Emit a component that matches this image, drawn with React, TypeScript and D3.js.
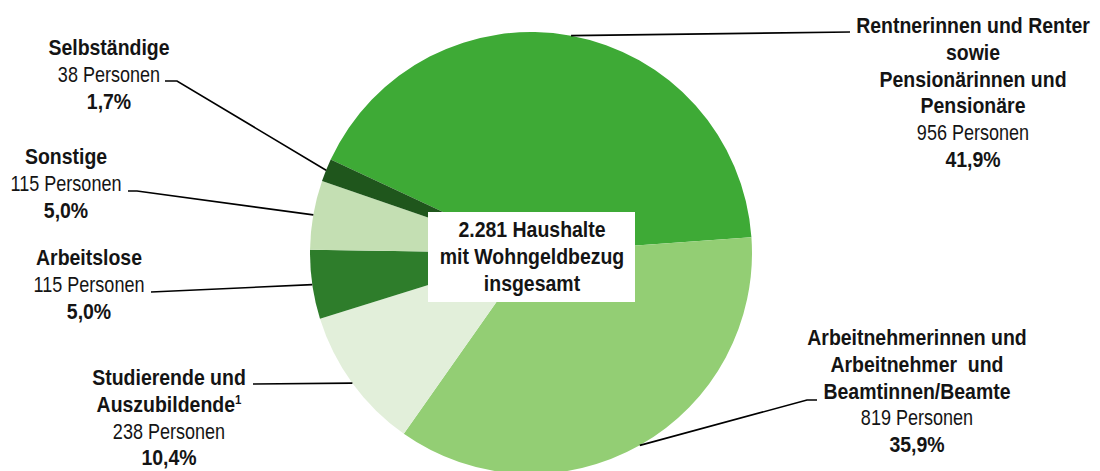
import React from "react";
import * as d3 from "d3";

const categories = [
  "Rentner",
  "Arbeitnehmer",
  "Studierende",
  "Arbeitslose",
  "Sonstige",
  "Selbstaendige",
];
const persons = [956, 819, 238, 115, 115, 38];
const percentLabels = ["41,9%", "35,9%", "10,4%", "5,0%", "5,0%", "1,7%"];
const titleLines = [
  ["Rentnerinnen und Renter", "sowie", "Pensionärinnen und", "Pensionäre"],
  ["Arbeitnehmerinnen und", "Arbeitnehmer  und", "Beamtinnen/Beamte"],
  ["Studierende und", "Auszubildende¹"],
  ["Arbeitslose"],
  ["Sonstige"],
  ["Selbständige"],
];
const personLabels = persons.map((p) => `${p} Personen`);
const totalLines = ["2.281 Haushalte", "mit Wohngeldbezug", "insgesamt"];

const colors = ["#3eaa36", "#93ce74", "#e2efda", "#2e7d2b", "#c4dfb3", "#1f561c"];

// layout
const W = 1100;
const H = 471;
const cx = 531;
const cy = 253;
const R = 221;
const startDeg = -65;
const LH = 26.8;
const FONT = "'Liberation Sans', Arial, sans-serif";
const FS = 22;
const SX_REG = 0.82;
const SX_BOLD = 0.885;

type LabelLayout = { x: number; y: number; pts: [number, number][] };
const labelLayout: LabelLayout[] = [
  { x: 973, y: 33, pts: [[850, 32]] },
  { x: 917, y: 345, pts: [[807, 400], [817, 400]] },
  { x: 169, y: 385, pts: [[253, 384]] },
  { x: 89, y: 265, pts: [[151, 292]] },
  { x: 66, y: 164, pts: [[137, 191], [128, 191]] },
  { x: 109, y: 55, pts: [[177, 81], [165, 81]] },
];

function Line({ x, y, bold, children }: { x: number; y: number; bold?: boolean; children: string }) {
  const sup = children.endsWith("¹");
  const main = sup ? children.slice(0, -1) : children;
  return (
    <text
      transform={`translate(${x},${y}) scale(${bold ? SX_BOLD : SX_REG},1)`}
      textAnchor="middle"
      fontSize={FS}
      fontWeight={bold ? "bold" : "normal"}
      fill="#141414"
      style={{ whiteSpace: "pre" }}
    >
      {main}
      {sup ? (
        <tspan fontSize={13} dy={-8}>
          1
        </tspan>
      ) : null}
    </text>
  );
}

export default function App() {
  const start = (startDeg * Math.PI) / 180;
  const pie = d3
    .pie<number>()
    .sort(null)
    .value((d) => d)
    .startAngle(start)
    .endAngle(start + 2 * Math.PI);
  const arcs = pie(persons);
  const arc = d3.arc<d3.PieArcDatum<number>>().innerRadius(0).outerRadius(R);
  const line = d3.line();

  return (
    <svg
      width={W}
      height={H}
      style={{ position: "absolute", left: 0, top: 0, background: "#fff" }}
      fontFamily={FONT}
    >
      <g transform={`translate(${cx},${cy})`}>
        {arcs.map((a, i) => (
          <path key={categories[i]} d={arc(a) || ""} fill={colors[i]} />
        ))}
      </g>
      {arcs.map((a, i) => {
        const mid = (a.startAngle + a.endAngle) / 2;
        const p0: [number, number] = [cx + R * Math.sin(mid), cy - R * Math.cos(mid)];
        const L = labelLayout[i];
        return (
          <path
            key={"l" + i}
            d={line([p0, ...L.pts]) || ""}
            fill="none"
            stroke="#000"
            strokeWidth={1.6}
          />
        );
      })}
      {labelLayout.map((L, i) => {
        const t = titleLines[i];
        return (
          <g key={"t" + i}>
            {t.map((s, j) => (
              <Line key={j} x={L.x} y={L.y + j * LH} bold>
                {s}
              </Line>
            ))}
            <Line x={L.x} y={L.y + t.length * LH}>
              {personLabels[i]}
            </Line>
            <Line x={L.x} y={L.y + (t.length + 1) * LH} bold>
              {percentLabels[i]}
            </Line>
          </g>
        );
      })}
      <rect x={428} y={212} width={207} height={90} fill="#fff" />
      {totalLines.map((s, j) => (
        <Line key={"c" + j} x={532} y={237 + j * 27} bold>
          {s}
        </Line>
      ))}
    </svg>
  );
}
